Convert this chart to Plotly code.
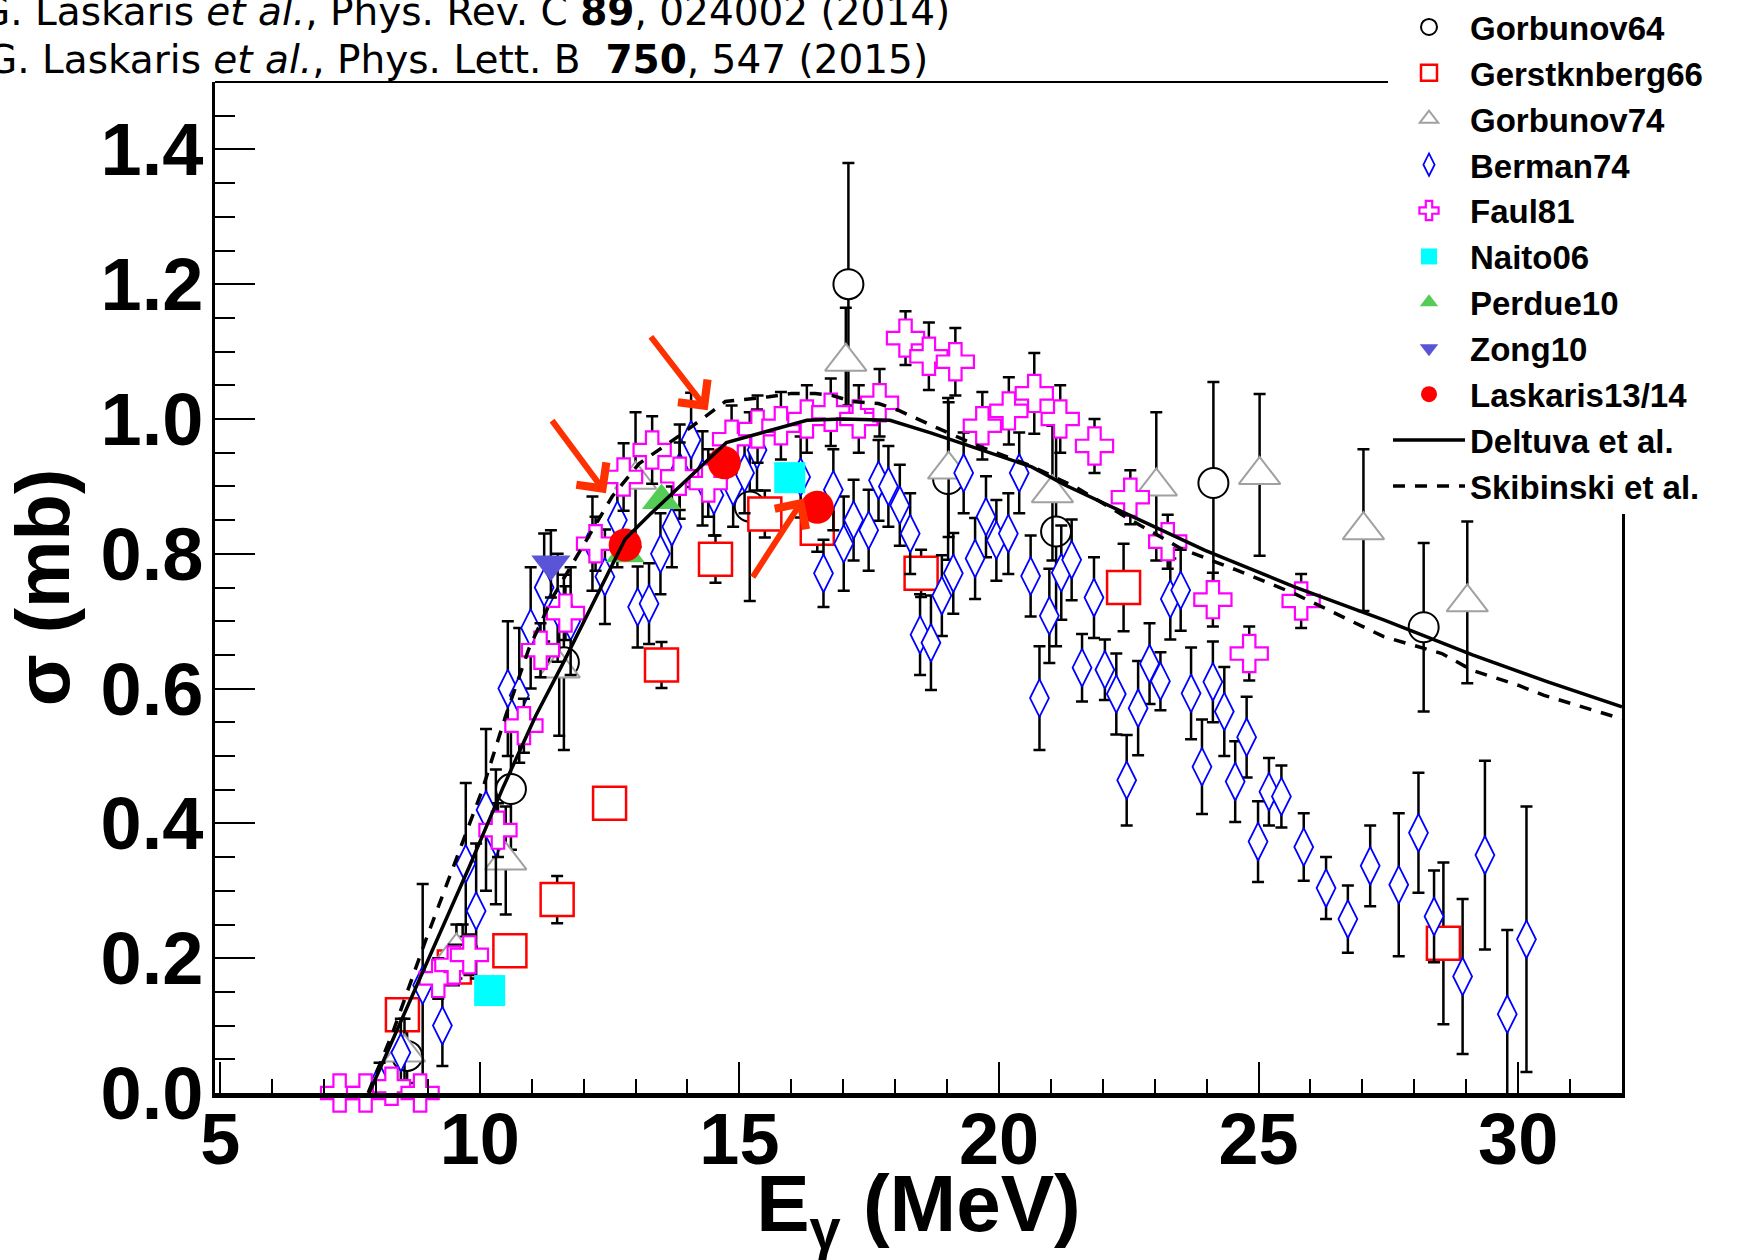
import plotly.graph_objects as go

# ---------------- data ----------------
gorb64_x = [8.6, 9.67, 10.6, 11.62, 15.2, 17.1, 19.02, 21.1, 24.13, 28.18]
gorb64_y = [0.055, 0.21, 0.451, 0.639, 0.87, 1.20, 0.911, 0.833, 0.905, 0.691]
gorb64_e = [0.04, 0.04, 0.09, 0.13, 0.14, 0.18, 0.12, 0.17, 0.15, 0.125]

gerst_x = [8.51, 9.51, 10.58, 11.49, 12.5, 13.5, 14.54, 15.49, 16.5, 18.5, 22.4, 28.56]
gerst_y = [0.116, 0.187, 0.211, 0.287, 0.43, 0.635, 0.792, 0.859, 0.838, 0.771, 0.75, 0.222]
gerst_e = [0.02, 0.02, 0.02, 0.035, 0.01, 0.034, 0.035, 0.035, 0.035, 0.035, 0.065, 0.12]

gorb74_x = [8.55, 9.55, 10.5, 11.53, 13.0, 17.05, 19.03, 21.03, 23.03, 25.02, 27.02, 29.02]
gorb74_y = [0.06, 0.21, 0.345, 0.63, 0.91, 1.085, 0.925, 0.89, 0.90, 0.917, 0.835, 0.728]
gorb74_e = [0.05, 0.04, 0.08, 0.1, 0.1, 0.08, 0.1, 0.1, 0.11, 0.12, 0.12, 0.12]

berman_x = [8.07, 8.48, 8.9, 9.28, 9.73, 9.93, 10.12, 10.31, 10.54, 10.76,
            10.98, 11.24, 11.5, 11.75, 12.17, 12.41, 12.65, 13.04, 13.26, 13.48,
            13.7, 13.85, 14.07, 14.29, 14.51, 14.88, 15.1, 15.34, 16.18, 16.62,
            16.81, 17.01, 17.2, 17.49, 17.68, 17.87, 18.09, 18.29, 18.48, 18.69,
            18.9, 19.12, 19.32, 19.54, 19.75, 19.95, 20.18, 20.39, 20.61, 20.78,
            20.97, 21.2, 21.4, 21.6, 21.83, 22.04, 22.26, 22.46, 22.68, 22.9,
            23.11, 23.3, 23.5, 23.7, 23.91, 24.12, 24.34, 24.55, 24.77, 24.99,
            25.2, 25.44, 25.87, 26.3, 26.72, 27.15, 27.7, 28.08, 28.38, 28.93,
            29.36, 29.79, 30.16]
berman_y = [0.015, 0.06, 0.16, 0.10, 0.34, 0.27, 0.42, 0.38, 0.60, 0.59,
            0.69, 0.75, 0.72, 0.70, 0.815, 0.766, 0.85, 0.721, 0.726, 0.80,
            0.84, 0.922, 0.969, 0.912, 0.887, 0.90, 0.92, 0.954, 0.914, 0.771,
            0.895, 0.815, 0.85, 0.835, 0.909, 0.90, 0.872, 0.83, 0.68, 0.668,
            0.738, 0.771, 0.92, 0.793, 0.855, 0.82, 0.83, 0.92, 0.767, 0.586,
            0.708, 0.772, 0.791, 0.631, 0.735, 0.628, 0.592, 0.464, 0.571, 0.637,
            0.611, 0.733, 0.746, 0.593, 0.484, 0.61, 0.566, 0.462, 0.528, 0.373,
            0.447, 0.44, 0.365, 0.304, 0.258, 0.337, 0.309, 0.386, 0.262, 0.173,
            0.353, 0.117, 0.228]
berman_e = [0.03, 0.05, 0.15, 0.06, 0.12, 0.10, 0.12, 0.10, 0.10, 0.10,
            0.09, 0.08, 0.08, 0.08, 0.07, 0.07, 0.07, 0.06, 0.06, 0.06,
            0.06, 0.07, 0.07, 0.07, 0.06, 0.06, 0.06, 0.06, 0.06, 0.05,
            0.06, 0.07, 0.06, 0.06, 0.06, 0.06, 0.06, 0.06, 0.06, 0.07,
            0.06, 0.06, 0.06, 0.06, 0.06, 0.06, 0.06, 0.06, 0.06, 0.077,
            0.07, 0.07, 0.06, 0.05, 0.06, 0.045, 0.06, 0.067, 0.07, 0.06,
            0.043, 0.06, 0.06, 0.068, 0.07, 0.06, 0.066, 0.06, 0.06, 0.06,
            0.05, 0.046, 0.05, 0.046, 0.05, 0.06, 0.106, 0.089, 0.068, 0.115,
            0.14, 0.125, 0.197]

faul_x = [7.3, 7.8, 8.3, 8.85, 9.2, 9.5, 9.8, 10.35, 10.85, 11.17, 11.65, 12.23,
          12.77, 13.32, 13.85, 14.4, 14.85, 15.35, 15.8, 16.3, 16.76, 17.3, 17.7,
          18.2, 18.65, 19.16, 19.68, 20.19, 20.68, 21.18, 21.84, 22.53, 23.25,
          24.12, 24.82, 25.82]
faul_y = [0.0, 0.0, 0.01, 0.0, 0.17, 0.19, 0.205, 0.39, 0.545, 0.657, 0.712, 0.815,
          0.914, 0.954, 0.915, 0.905, 0.97, 0.985, 0.99, 1.0, 1.01, 1.0, 1.024,
          1.12, 1.093, 1.085, 0.99, 1.012, 1.038, 1.0, 0.96, 0.884, 0.818,
          0.732, 0.652, 0.73]
faul_e = [0.01, 0.01, 0.01, 0.01, 0.03, 0.03, 0.03, 0.04, 0.04, 0.04, 0.04, 0.04,
          0.05, 0.05, 0.05, 0.05, 0.05, 0.05, 0.05, 0.05, 0.05, 0.05, 0.05,
          0.04, 0.05, 0.05, 0.05, 0.05, 0.06, 0.05, 0.04, 0.04, 0.04,
          0.04, 0.04, 0.04]

naito_x = [10.19, 15.97]
naito_y = [0.152, 0.913]

perdue_x = [12.8, 13.5]
perdue_y = [0.80, 0.879]

zong_x = [11.37]
zong_y = [0.785]
zong_e = [0.05]

lask_x = [12.8, 14.71, 16.5]
lask_y = [0.813, 0.935, 0.869]

delt_x = [7.87, 8.5, 9.16, 9.8, 10.44, 11.08, 11.62, 12.2, 12.8, 13.3, 14.0, 14.75,
          15.5, 16.3, 17.0, 17.9, 18.7, 19.67, 20.63, 21.27, 22.43, 23.97, 25.69,
          27.41, 29.12, 30.57, 32.0]
delt_y = [0.0, 0.11, 0.222, 0.336, 0.452, 0.56, 0.64, 0.73, 0.822, 0.86, 0.91, 0.965,
          0.981, 0.998, 1.0, 0.998, 0.979, 0.954, 0.929, 0.902, 0.86, 0.805, 0.751,
          0.702, 0.65, 0.61, 0.573]

skib_x = [7.85, 8.32, 8.96, 9.54, 10.05, 10.5, 10.95, 11.4, 11.9, 12.3, 12.55, 13.07,
          13.45, 13.84, 14.42, 14.73, 15.57, 16.0, 16.46, 16.78, 17.17, 17.68, 18.06,
          18.45, 18.83, 19.3, 19.67, 20.63, 21.5, 22.5, 23.5, 24.57, 25.69, 27.41,
          28.53, 29.12, 30.0, 30.5, 32.0]
skib_y = [0.0, 0.089, 0.227, 0.346, 0.45, 0.56, 0.66, 0.735, 0.80, 0.85, 0.885, 0.934,
          0.954, 0.975, 1.008, 1.026, 1.033, 1.038, 1.038, 1.035, 1.026, 1.023, 1.013,
          1.0, 0.986, 0.97, 0.958, 0.93, 0.898, 0.852, 0.808, 0.776, 0.741, 0.677,
          0.652, 0.627, 0.605, 0.59, 0.555]

# red arrows (tip positions in data units, tail offsets in px)
arrow_tip_x = [12.43, 14.39, 16.24]
arrow_tip_y = [0.890, 1.013, 0.882]
arrow_ax = [-55, -58, -52]
arrow_ay = [-74, -75, 80]

header_lines = [
    "G. Laskaris <i>et al.</i>, Phys. Rev. C <b>89</b>, 024002 (2014)",
    "G. Laskaris <i>et al.</i>, Phys. Lett. B  <b>750</b>, 547 (2015)",
]

# ---------------- figure ----------------
W, H = 1737, 1260
ML, MR, MT, MB = 215, 115, 82, 167
PW = W - ML - MR
PH = H - MT - MB
BOLD = dict(family="Liberation Sans, Arial, sans-serif", weight="bold", color="black")

fig = go.Figure()


def err(vals):
    return dict(type="data", array=vals, visible=True, color="black",
                thickness=2.5, width=6)


def hollow(symbol, size, color, lw):
    # white-filled outline marker: error bars stop at the marker edge (ROOT style)
    return dict(symbol=symbol, size=size, color="white", line=dict(color=color, width=lw))


fig.add_trace(go.Scatter(
    x=gorb64_x, y=gorb64_y, error_y=err(gorb64_e), mode="markers", name="Gorbunov64",
    marker=hollow("circle", 30, "black", 2)))
fig.add_trace(go.Scatter(
    x=gerst_x, y=gerst_y, error_y=err(gerst_e), mode="markers", name="Gerstknberg66",
    marker=hollow("square", 33, "red", 2.5)))
fig.add_trace(go.Scatter(
    x=gorb74_x, y=gorb74_y, error_y=err(gorb74_e), mode="markers", name="Gorbunov74",
    marker=hollow("triangle-up", 36, "#a0a0a0", 2)))
fig.add_trace(go.Scatter(
    x=berman_x, y=berman_y, error_y=err(berman_e), mode="markers", name="Berman74",
    marker=hollow("diamond-tall", 27, "blue", 1.8)))
fig.add_trace(go.Scatter(
    x=faul_x, y=faul_y, error_y=err(faul_e), mode="markers", name="Faul81",
    cliponaxis=False,
    marker=hollow("cross", 31, "magenta", 2.2)))
fig.add_trace(go.Scatter(
    x=naito_x, y=naito_y, mode="markers", name="Naito06",
    marker=dict(symbol="square", size=31, color="cyan", line=dict(width=0))))
fig.add_trace(go.Scatter(
    x=perdue_x, y=perdue_y, mode="markers", name="Perdue10",
    marker=dict(symbol="triangle-up", size=34, color="#55cc55", line=dict(width=0))))
fig.add_trace(go.Scatter(
    x=zong_x, y=zong_y, error_y=err(zong_e), mode="markers", name="Zong10",
    marker=dict(symbol="triangle-down", size=34, color="#5a55d6", line=dict(width=0))))
fig.add_trace(go.Scatter(
    x=lask_x, y=lask_y, mode="markers", name="Laskaris13/14",
    marker=dict(symbol="circle", size=33, color="red", line=dict(width=0))))
fig.add_trace(go.Scatter(
    x=delt_x, y=delt_y, mode="lines", name="Deltuva et al.",
    line=dict(color="black", width=3.5)))
fig.add_trace(go.Scatter(
    x=skib_x, y=skib_y, mode="lines", name="Skibinski et al.",
    line=dict(color="black", width=3.5, dash="12px,10px")))

for tx, ty, ax, ay in zip(arrow_tip_x, arrow_tip_y, arrow_ax, arrow_ay):
    fig.add_annotation(x=tx, y=ty, ax=ax, ay=ay, text="", showarrow=True,
                       arrowhead=4, arrowsize=1.2, arrowwidth=6, arrowcolor="#ff3000")

header_py = [12, 59]
header_px_right = [952, 930]
for txt, py, pxr in zip(header_lines, header_py, header_px_right):
    fig.add_annotation(
        text=txt, xref="paper", yref="paper",
        x=(pxr - ML) / PW, y=(H - MB - py) / PH,
        xanchor="right", yanchor="middle", showarrow=False,
        font=dict(family="DejaVu Sans, sans-serif", size=39, color="black"))

# top frame line (thin)
fig.add_shape(type="line", xref="paper", yref="paper", x0=0, x1=1, y0=1, y1=1,
              line=dict(color="black", width=2))

fig.update_layout(
    width=W, height=H,
    margin=dict(l=ML, r=MR, t=MT, b=MB, autoexpand=False),
    paper_bgcolor="white", plot_bgcolor="white",
    showlegend=True,
    legend=dict(
        x=(1388 - ML) / PW, y=(H - MB + 1) / PH, xanchor="left", yanchor="top",
        bgcolor="white", borderwidth=0, itemwidth=72,
        font=dict(size=33, **BOLD), tracegroupgap=0,
    ),
    xaxis=dict(
        range=[4.9, 32], tick0=5, dtick=5, ticks="inside", ticklen=31, tickwidth=2,
        tickcolor="black", showgrid=False, zeroline=False,
        showline=True, linewidth=5, linecolor="black", mirror=False,
        tickfont=dict(size=72, **BOLD), ticklabelstandoff=-20,
        minor=dict(dtick=1, ticks="inside", ticklen=14, tickwidth=2, tickcolor="black"),
        title=dict(text="E<sub>γ</sub> (MeV)", font=dict(size=80, **BOLD), standoff=29),
    ),
    yaxis=dict(
        range=[0, 1.5], tick0=0, dtick=0.2, tickformat=".1f", ticks="inside",
        ticklen=40, tickwidth=2, tickcolor="black", showgrid=False, zeroline=False,
        showline=True, linewidth=2.5, linecolor="black", mirror=True,
        tickfont=dict(size=74, **BOLD), ticklabelstandoff=-6,
        minor=dict(dtick=0.05, ticks="inside", ticklen=20, tickwidth=2, tickcolor="black"),
        title=dict(text="σ (mb)", font=dict(size=76, **BOLD), standoff=18),
    ),
)

fig.write_html("out.html")
